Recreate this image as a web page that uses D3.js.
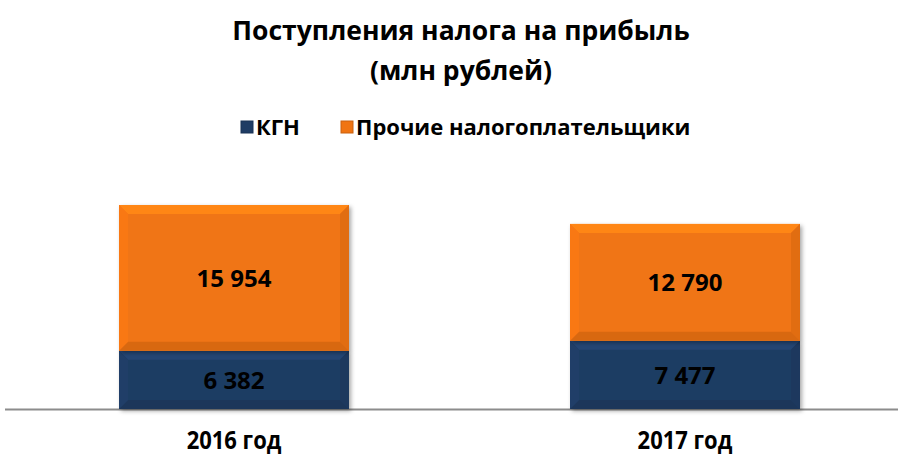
<!DOCTYPE html>
<meta charset="utf-8">
<html lang="ru">
<head>
	<title>Поступления налога на прибыль</title>
	<script src="https://d3js.org/d3.v7.min.js" charset="utf-8"></script>
	<style>
		body { margin: 0; background: #fff; }
		text { font-family: "Open Sans", "DejaVu Sans", sans-serif; font-weight: bold; }
	</style>
</head>
<body>
	<script>
		var categories = ["2016 год", "2017 год"];
		var seriesNames = ["КГН", "Прочие налогоплательщики"];
		var kgn = [6382, 7477];
		var other = [15954, 12790];
		var colors = ["#1f3c64", "#f07412"];
		var width = 898,
		    height = 455;

		var svg = d3.select("body").append("svg")
		    .attr("width", width)
		    .attr("height", height);

		// Title
		svg.append("text").attr("x", 461).attr("y", 40).attr("text-anchor", "middle")
		    .style("font-size", "26.5px").text("Поступления налога на прибыль");
		svg.append("text").attr("x", 461).attr("y", 80).attr("text-anchor", "middle")
		    .style("font-size", "26.5px").text("(млн рублей)");

		var x = d3.scalePoint().domain(categories).range([234, 685]);
		var barW = 230;
		var y = d3.scaleLinear().domain([0, 22336]).range([409, 205]);

		var stacked = categories.map(function(c, i) {
		  return [
		    { cat: c, s: 0, y0: 0, y1: kgn[i], v: kgn[i] },
		    { cat: c, s: 1, y0: kgn[i], y1: kgn[i] + other[i], v: other[i] }
		  ];
		});

		var defs = svg.append("defs");
		var f = defs.append("filter").attr("id", "sh").attr("x", "-10%").attr("y", "-10%").attr("width", "130%").attr("height", "130%");
		f.append("feDropShadow").attr("dx", 2).attr("dy", 2).attr("stdDeviation", 2).attr("flood-color", "#000").attr("flood-opacity", 0.35);

		// axis line
		svg.append("line").attr("x1", 5).attr("x2", 898).attr("y1", 409.5).attr("y2", 409.5)
		    .attr("stroke", "#8c8c8c").attr("stroke-width", 2);

		var g = svg.append("g");
		var bev = 9;
		stacked.forEach(function(stack) {
		  stack.forEach(function(d) {
		    var x0 = x(d.cat) - barW / 2, x1 = x0 + barW;
		    var t = y(d.y1), b = y(d.y0);
		    var base = d3.color(colors[d.s]);
		    var seg = g.append("g");
		    seg.append("rect").attr("x", x0).attr("y", t).attr("width", barW).attr("height", b - t)
		        .attr("fill", base).attr("filter", "url(#sh)");
		    // bevel edges
		    var pts = function(p) { return p.map(function(q) { return q.join(","); }).join(" "); };
		    seg.append("polygon").attr("points", pts([[x0, t], [x1, t], [x1 - bev, t + bev], [x0 + bev, t + bev]]))
		        .attr("fill", base.brighter(0.4));
		    seg.append("polygon").attr("points", pts([[x0, b], [x1, b], [x1 - bev, b - bev], [x0 + bev, b - bev]]))
		        .attr("fill", base.darker(0.3));
		    seg.append("polygon").attr("points", pts([[x0, t], [x0 + bev, t + bev], [x0 + bev, b - bev], [x0, b]]))
		        .attr("fill", base.brighter(0.1));
		    seg.append("polygon").attr("points", pts([[x1, t], [x1 - bev, t + bev], [x1 - bev, b - bev], [x1, b]]))
		        .attr("fill", base.darker(0.18));
		    seg.append("text").attr("x", x(d.cat)).attr("y", (t + b) / 2 + 9).attr("text-anchor", "middle")
		        .style("font-size", "24px").attr("fill", "#000")
		        .text(d3.format(",")(d.v).replace(",", " "));
		  });
		});

		// category labels
		svg.selectAll(".cat").data(categories).enter().append("text")
		    .attr("x", function(d) { return x(d); }).attr("y", 449).attr("text-anchor", "middle")
		    .style("font-size", "25px").attr("fill", "#000")
		    .attr("transform", function(d) { return "translate(" + x(d) + ",0) scale(0.88,1) translate(" + (-x(d)) + ",0)"; })
		    .text(function(d) { return d; });

		// legend
		var legendX = [241, 341];
		var lg = svg.selectAll(".lg").data(seriesNames).enter().append("g")
		    .attr("transform", function(d, i) { return "translate(" + legendX[i] + ",121)"; });
		lg.append("rect").attr("width", 12).attr("height", 12)
		    .attr("fill", function(d, i) { return colors[i]; })
		    .attr("stroke", function(d, i) { return d3.color(colors[i]).darker(0.5); });
		lg.append("text").attr("x", 15).attr("y", 14).style("font-size", "22px").attr("fill", "#000")
		    .text(function(d) { return d; });
	</script>
</body>
</html>
